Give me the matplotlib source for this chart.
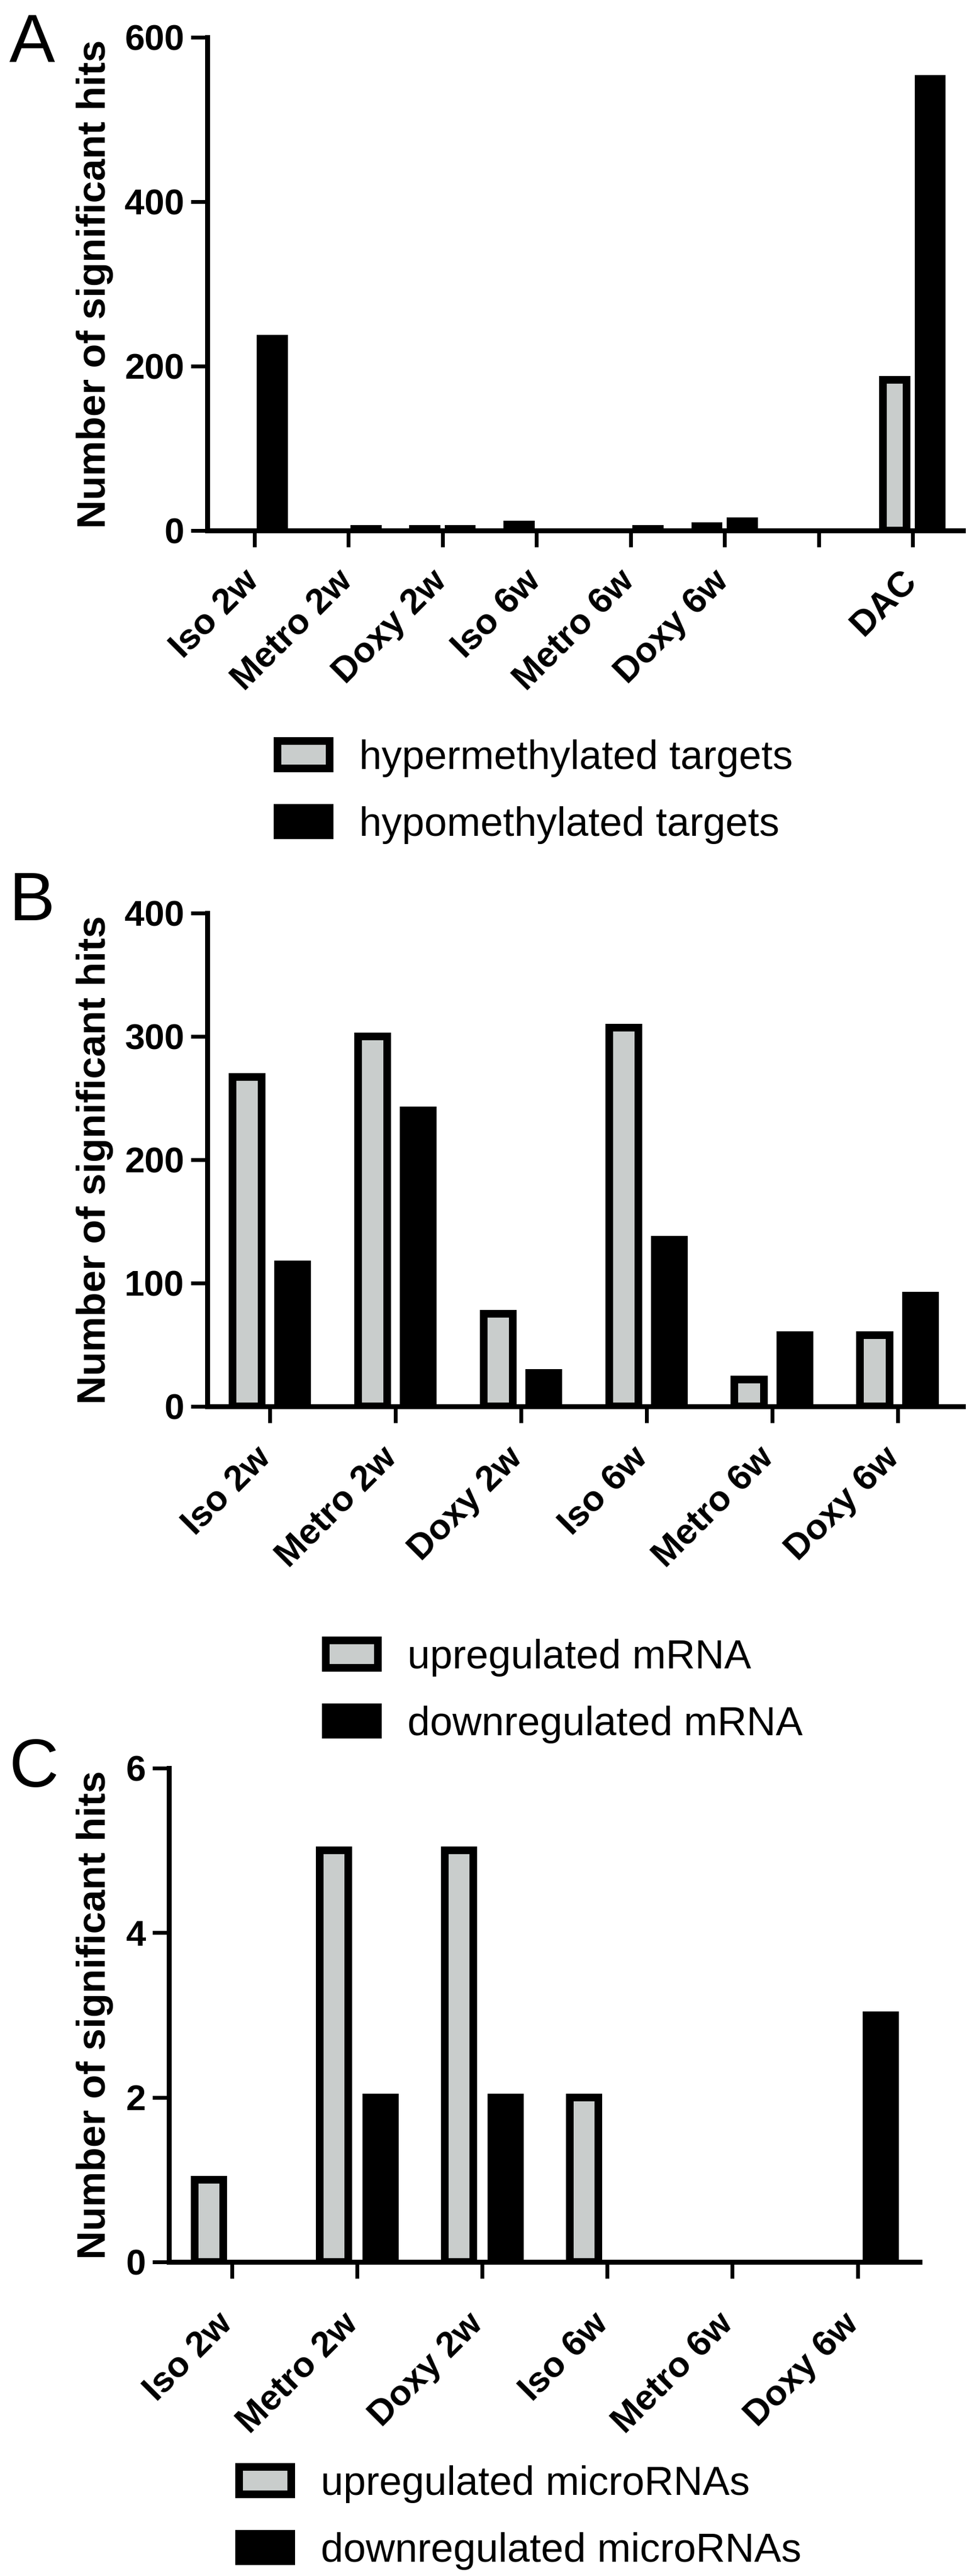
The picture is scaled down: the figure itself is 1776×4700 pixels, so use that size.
import numpy as np
import matplotlib
matplotlib.use("Agg")
import matplotlib.pyplot as plt
import matplotlib.transforms as mtrans
from matplotlib.patches import Patch

plt.rcParams['font.family'] = ['Liberation Sans', 'DejaVu Sans']

# ---------------- data ----------------
cats_A = ["Iso 2w", "Metro 2w", "Doxy 2w", "Iso 6w", "Metro 6w", "Doxy 6w", "", "DAC"]
hyper_A = [0, 0, 2, 7, 0, 5, 0, 183]
hypo_A = [233, 2, 2, 0, 2, 11, 0, 549]

cats_B = ["Iso 2w", "Metro 2w", "Doxy 2w", "Iso 6w", "Metro 6w", "Doxy 6w"]
up_B = [267, 300, 75, 307, 22, 58]
down_B = [115, 240, 27, 135, 58, 90]

cats_C = ["Iso 2w", "Metro 2w", "Doxy 2w", "Iso 6w", "Metro 6w", "Doxy 6w"]
up_C = [1, 5, 5, 2, 0, 0]
down_C = [0, 2, 2, 0, 0, 3]

labels_A = ["hypermethylated targets", "hypomethylated targets"]
labels_B = ["upregulated mRNA", "downregulated mRNA"]
labels_C = ["upregulated microRNAs", "downregulated microRNAs"]

# ---------------- style ----------------
W, H, DPI = 1776, 4700, 100
PX = 72.0 / DPI  # points per pixel
GRAY = "#c9cdcc"
EDGE_LW = 14 * PX
SPINE_LW = 9 * PX
TICK_LW = 7 * PX
TICK_LEN = 30 * PX
TICK_FS = 47
YLAB_FS = 52
LEG_FS = 53
LET_FS = 90

fig = plt.figure(figsize=(W / DPI, H / DPI), dpi=DPI)


def fx(px):
    return px / W


def fy(py):
    return 1 - py / H


def panel(left, right, top, bottom, cats, s1, s2, ylim, yticks, xlim,
          width, offset, xpad_px, xshift_px, labels, leg_xy, letter, letter_y):
    ax = fig.add_axes([fx(left), fy(bottom), fx(right - left), (bottom - top) / H])
    x = np.arange(len(cats))
    b1 = ax.bar(x - offset, s1, width, color=GRAY, edgecolor="black",
                linewidth=EDGE_LW, zorder=2)
    b2 = ax.bar(x + offset, s2, width, color="black", edgecolor="black",
                linewidth=EDGE_LW, zorder=2)
    for p in list(b1) + list(b2):
        if p.get_height() == 0:
            p.set_visible(False)
    ax.set_xlim(*xlim)
    ax.set_ylim(*ylim)
    ax.set_yticks(yticks)
    ax.set_yticklabels([str(v) for v in yticks], fontsize=TICK_FS, fontweight="bold")
    ax.set_xticks(x)
    ax.set_xticklabels(cats, fontsize=TICK_FS, fontweight="bold", rotation=45,
                       ha="right", va="baseline", rotation_mode="anchor")
    ax.tick_params(axis="x", length=TICK_LEN, width=TICK_LW, pad=xpad_px * PX,
                   direction="out")
    ax.tick_params(axis="y", length=TICK_LEN, width=TICK_LW, pad=12 * PX,
                   direction="out")
    shift = mtrans.ScaledTranslation(xshift_px / DPI, 0, fig.dpi_scale_trans)
    for lab in ax.get_xticklabels():
        lab.set_transform(lab.get_transform() + shift)
    for s in ["top", "right"]:
        ax.spines[s].set_visible(False)
    for s in ["left", "bottom"]:
        ax.spines[s].set_linewidth(SPINE_LW)
        ax.spines[s].set_zorder(3)
    ax.set_ylabel("Number of significant hits", fontsize=YLAB_FS, fontweight="bold")
    ax.yaxis.set_label_coords(fx(207), fy((top + bottom) / 2), transform=fig.transFigure)
    handles = [Patch(facecolor=GRAY, edgecolor="black", linewidth=EDGE_LW),
               Patch(facecolor="black", edgecolor="black", linewidth=EDGE_LW)]
    ax.legend(handles=handles, labels=labels, loc="upper left",
              bbox_to_anchor=(fx(leg_xy[0]), fy(leg_xy[1])),
              bbox_transform=fig.transFigure, frameon=False,
              fontsize=LEG_FS, borderpad=0, borderaxespad=0,
              handlelength=95 / 73.6, handleheight=50 / 73.6,
              handletextpad=0.73, labelspacing=0.72)
    fig.text(fx(17), fy(letter_y), letter, fontsize=LET_FS, ha="left", va="baseline")
    return ax


panel(378, 1756, 68, 968, cats_A, hyper_A, hypo_A, (0, 600), [0, 200, 400, 600],
      (-0.502, 7.537), 0.25, 0.187, 65, 10, labels_A, (506, 1349), "A", 113)
panel(378, 1756, 1666, 2566, cats_B, up_B, down_B, (0, 400), [0, 100, 200, 300, 400],
      (-0.498, 5.52), 0.232, 0.183, 67, 5, labels_B, (594, 2990), "B", 1679)
panel(308, 1677, 3226, 4127, cats_C, up_C, down_C, (0, 6), [0, 2, 4, 6],
      (-0.504, 5.497), 0.228, 0.186, 86, 4, labels_C, (436, 4498), "C", 3260)

fig.savefig("out.png", dpi=DPI, facecolor="white")
